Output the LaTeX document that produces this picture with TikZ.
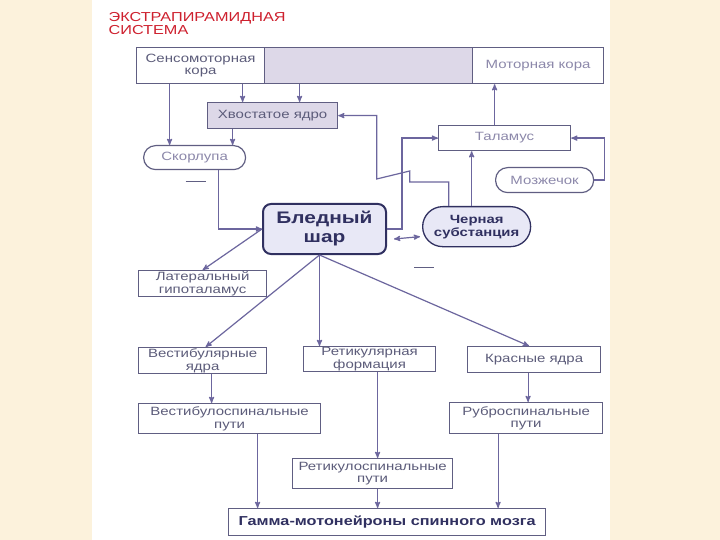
\documentclass[tikz,border=0pt]{standalone}
\usepackage{fontspec}
\setmainfont{Liberation Sans}[FakeStretch=1.25]
\usetikzlibrary{arrows}

\definecolor{paper}{RGB}{252,242,220}
\definecolor{linecol}{RGB}{108,102,158}
\definecolor{boxcol}{RGB}{96,94,130}
\definecolor{textcol}{RGB}{92,92,122}
\definecolor{lighttext}{RGB}{140,136,170}
\definecolor{darktext}{RGB}{48,48,96}
\definecolor{titlered}{RGB}{206,32,46}
\definecolor{hatchcol}{RGB}{221,216,232}
\definecolor{palefill}{RGB}{232,232,246}

\begin{document}
\begin{tikzpicture}[x=1pt,y=-1pt,auto,>=stealth',line width=1.2pt]
\tikzset{
block/.style= {draw=boxcol, rectangle, anchor=north west, inner sep=0pt, align=center, text=textcol, font=\fontsize{12}{12.5}\selectfont},
lightblock/.style= {block, text=lighttext},
roundblock/.style = {lightblock, rounded corners=12pt},
boldblock/.style = {block, text=darktext},
link/.style = {draw=linecol}
}

\useasboundingbox (0,0) rectangle (720,540);
\fill [paper] (0,0) rectangle (720,540);
\fill [white] (92,0) rectangle (610,540);

\node [anchor=north west, inner sep=0pt, align=left, text=titlered, font=\fontsize{13}{13}\selectfont](title) at (108,12) {ЭКСТРАПИРАМИДНАЯ\\СИСТЕМА};

\node [block, minimum width=128pt, minimum height=36pt](sensorycortex) at (136,47) {Сенсомоторная\\кора};
\node [block, fill=hatchcol, minimum width=208pt, minimum height=36pt](premotor) at (264,47) {};
\node [lightblock, minimum width=131pt, minimum height=36pt](motorcortex) at (472,47) {Моторная кора};
\node [block, fill=hatchcol, minimum width=130pt, minimum height=26pt](caudate) at (207,102) {Хвостатое ядро};
\node [roundblock, minimum width=102pt, minimum height=24pt](putamen) at (143,145) {Скорлупа};
\node [lightblock, minimum width=132pt, minimum height=25pt](thalamus) at (438,125) {Таламус};
\node [roundblock, minimum width=98pt, minimum height=25pt](cerebellum) at (495,167) {Мозжечок};
\node [boldblock, draw=darktext, fill=palefill, line width=2pt, rounded corners=8pt, minimum width=123pt, minimum height=50pt, font=\fontsize{16.7}{19}\selectfont\bfseries](pallidum) at (262,203) {Бледный\\шар};
\node [boldblock, draw=darktext, fill=palefill, line width=1.3pt, rounded corners=20pt, minimum width=108pt, minimum height=40pt, font=\fontsize{11.9}{13}\selectfont\bfseries](nigra) at (422,206) {Черная\\субстанция};

\node [block, minimum width=128pt, minimum height=26pt](lathypo) at (138,270) {Латеральный\\гипоталамус};
\node [block, minimum width=128pt, minimum height=26pt](vestnuc) at (138,347) {Вестибулярные\\ядра};
\node [block, minimum width=132pt, minimum height=25pt](retform) at (303,346) {Ретикулярная\\формация};
\node [block, minimum width=133pt, minimum height=26pt](rednuc) at (467,346) {Красные ядра};
\node [block, minimum width=182pt, minimum height=30pt](vestsp) at (138,403) {Вестибулоспинальные\\пути};
\node [block, minimum width=160pt, minimum height=30pt](retsp) at (292,458) {Ретикулоспинальные\\пути};
\node [block, minimum width=153pt, minimum height=31pt](rubrosp) at (449,402) {Руброспинальные\\пути};
\node [boldblock, minimum width=317pt, minimum height=27pt, font=\fontsize{13}{14}\selectfont\bfseries](gamma) at (228,508) {Гамма-мотонейроны спинного мозга};

% cortex and striatum
\draw [->, link] ([xshift=-31pt]sensorycortex.south) -- ([xshift=-31pt]sensorycortex.south |- putamen.north);
\draw [->, link] ([xshift=-30pt]caudate.north |- sensorycortex.south) -- ([xshift=-30pt]caudate.north);
\draw [->, link] ([xshift=27pt]caudate.north |- premotor.south) -- ([xshift=27pt]caudate.north);
\draw [->, link] ([xshift=-40pt]caudate.south) -- ([xshift=-40pt]caudate.south |- putamen.north);
\draw [->, link] ([xshift=24pt]putamen.south) |- (pallidum.west);
\draw [boxcol, line width=0.8pt] ([xshift=-9pt,yshift=-11pt]putamen.south) -- ++(20,0);

% thalamus loop
\draw [->, link] ([xshift=-10pt]thalamus.north) -- ([xshift=-10pt]thalamus.north |- motorcortex.south);
\draw [->, link] (pallidum.east) -- ++(15,0) |- (thalamus.west);
\draw [->, link] ([xshift=-5pt]nigra.north) -- ([xshift=-5pt]nigra.north |- thalamus.south);
\draw [->, link] (cerebellum.east) -- ++(10,0) |- (thalamus.east);
\draw [->, link] ([xshift=-28pt]nigra.north) -- ++(0,-24) -- ++(-39,0) -- ++(0,-11) -- ++(-33,8) |- (caudate.east);
\draw [<->, link] ([xshift=7pt,yshift=-10pt]pallidum.east) -- ([xshift=-2pt,yshift=-10pt]nigra.west);

% descending paths
\coordinate (pout) at ([xshift=-5pt]pallidum.south);
\draw [->, link] (pallidum.west) -- (lathypo.north);
\draw [->, link] (pout) -- ([xshift=3pt]vestnuc.north);
\draw [->, link] (pout) -- (pout |- retform.north);
\draw [->, link] (pout) -- ([xshift=-5pt]rednuc.north);
\draw [boxcol, line width=0.8pt] ([xshift=-8pt,yshift=-20pt]nigra.south west) -- ++(20,0);

\draw [->, link] ([xshift=9pt]vestnuc.south) -- ([xshift=9pt]vestnuc.south |- vestsp.north);
\draw [->, link] ([xshift=8pt]retform.south) -- ([xshift=8pt]retform.south |- retsp.north);
\draw [->, link] ([xshift=-6pt]rednuc.south) -- ([xshift=-6pt]rednuc.south |- rubrosp.north);
\draw [->, link] ([xshift=28pt]vestsp.south) -- ([xshift=28pt]vestsp.south |- gamma.north);
\draw [->, link] ([xshift=5pt]retsp.south) -- ([xshift=5pt]retsp.south |- gamma.north);
\draw [->, link] ([xshift=-28pt]rubrosp.south) -- ([xshift=-28pt]rubrosp.south |- gamma.north);
\end{tikzpicture}
\end{document}
